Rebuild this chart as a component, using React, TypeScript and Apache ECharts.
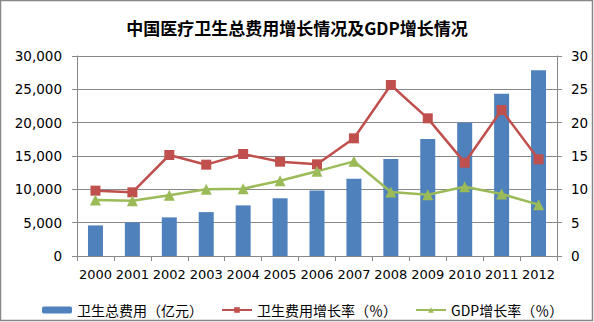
import React, { useEffect, useRef } from "react";
import * as echarts from "echarts";

const years = ["2000","2001","2002","2003","2004","2005","2006","2007","2008","2009","2010","2011","2012"];
const healthTotal = [4587, 5026, 5790, 6584, 7590, 8660, 9843, 11574, 14535, 17542, 19980, 24346, 27847];
const healthGrowth = [9.8, 9.55, 15.15, 13.7, 15.3, 14.15, 13.75, 17.65, 25.65, 20.65, 14.0, 21.9, 14.5];
const gdpGrowth = [8.4, 8.3, 9.1, 10.0, 10.1, 11.3, 12.7, 14.2, 9.6, 9.2, 10.4, 9.3, 7.7];

const titleText = "中国医疗卫生总费用增长情况及GDP增长情况";
const seriesNames = ["卫生总费用（亿元）", "卫生费用增长率（％）", "GDP增长率（％）"];

export default function App() {
  const ref = useRef<HTMLDivElement>(null);
  useEffect(() => {
    document.body.style.margin = "0";
    const chart = echarts.init(ref.current!, null, { renderer: "svg" });
    const font = "DejaVu Sans, sans-serif";
    chart.setOption({
      animation: false,
      backgroundColor: "#fff",
      title: {
        text: titleText,
        left: "center",
        top: 14,
        textStyle: { fontFamily: "Noto Sans CJK SC", fontSize: 17, fontWeight: "bold", color: "#000" },
      },
      graphic: [
        { type: "rect", shape: { x: 0.5, y: 0.5, width: 592, height: 320 }, style: { fill: "none", stroke: "#888", lineWidth: 1.5 } },
      ],
      legend: {
        top: 302,
        left: 42,
        padding: 0,
        itemGap: 18,
        itemWidth: 30,
        itemHeight: 7,
        textStyle: { fontFamily: "Noto Sans CJK SC", fontSize: 14, lineHeight: 16, color: "#000" },
        data: seriesNames,
      },
      grid: { left: 77, right: 37, top: 56, height: 200 },
      xAxis: {
        type: "category",
        data: years,
        axisLine: { lineStyle: { color: "#888" } },
        axisTick: { show: true, lineStyle: { color: "#888" }, length: 5 },
        axisLabel: { color: "#000", fontFamily: font, fontSize: 13, margin: 12, interval: 0 },
      },
      yAxis: [
        {
          type: "value", min: 0, max: 30000, interval: 5000,
          axisLine: { show: true, lineStyle: { color: "#888" } },
          axisTick: { show: true, length: 5, lineStyle: { color: "#888" } },
          splitLine: { lineStyle: { color: "#888" } },
          axisLabel: {
            color: "#000", fontFamily: font, fontSize: 13.5, margin: 15,
            formatter: (v: number) => v.toLocaleString("en-US"),
          },
        },
        {
          type: "value", min: 0, max: 30, interval: 5,
          axisLine: { show: true, lineStyle: { color: "#888" } },
          axisTick: { show: true, length: 5, lineStyle: { color: "#888" } },
          splitLine: { show: false },
          axisLabel: { color: "#000", fontFamily: font, fontSize: 13.5, margin: 14 },
        },
      ],
      series: [
        {
          name: seriesNames[0], type: "bar", data: healthTotal, barWidth: 15,
          itemStyle: { color: "#4F81BD" },
        },
        {
          name: seriesNames[1], type: "line", yAxisIndex: 1, data: healthGrowth,
          symbol: "rect", symbolSize: 10,
          itemStyle: { color: "#C0504D" }, lineStyle: { color: "#C0504D", width: 2.5 },
        },
        {
          name: seriesNames[2], type: "line", yAxisIndex: 1, data: gdpGrowth,
          symbol: "triangle", symbolSize: 11,
          itemStyle: { color: "#9BBB59" }, lineStyle: { color: "#9BBB59", width: 2.5 },
        },
      ],
    });
    return () => chart.dispose();
  }, []);
  return <div ref={ref} style={{ width: 594, height: 322 }} />;
}
